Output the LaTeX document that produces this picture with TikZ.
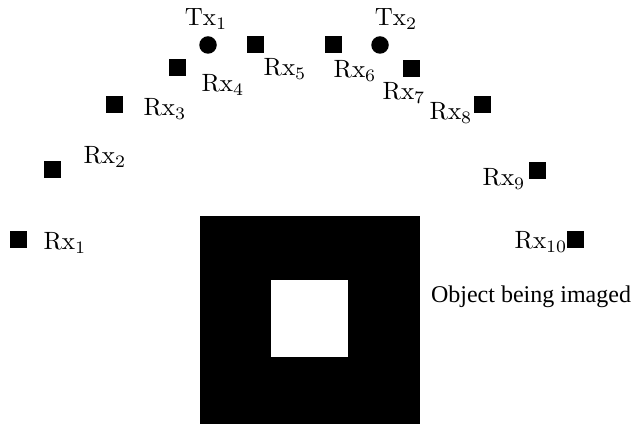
\documentclass[tikz,border=0pt]{standalone}
\usepackage{fontspec}
\newfontfamily\timesfont{Liberation Serif}
\begin{document}
\begin{tikzpicture}[x=0.4pt,y=-0.4pt,
  rxbox/.style={fill=black,draw=none,minimum size=6.8pt,inner sep=0pt,rectangle},
  txdot/.style={fill=black,draw=none,minimum size=7pt,inner sep=0pt,circle},
  lab/.style={inner sep=0pt,font=\fontsize{10}{12}\selectfont}]
\useasboundingbox (0,0) rectangle (631,424);
% object
\fill[black] (200,216) rectangle (420,424);
\fill[white] (271,280) rectangle (348,357);
\node[inner sep=0pt,font=\timesfont\fontsize{9.6}{11}\selectfont] (obj) at (531,297) {Object being imaged};
% transmitters
\node[txdot] (tx1) at (208,45) {};
\node[txdot] (tx2) at (380,45) {};
\node[lab] (tx1l) at (206,19) {$\mathrm{Tx}_1$};
\node[lab] (tx2l) at (396,19) {$\mathrm{Tx}_2$};
% receivers
\node[rxbox] (rx1) at (18,240) {};
\node[rxbox] (rx2) at (52,170) {};
\node[rxbox] (rx3) at (114,105) {};
\node[rxbox] (rx4) at (177,68) {};
\node[rxbox] (rx5) at (255,45) {};
\node[rxbox] (rx6) at (333,45) {};
\node[rxbox] (rx7) at (411,69) {};
\node[rxbox] (rx8) at (482,105) {};
\node[rxbox] (rx9) at (537,171) {};
\node[rxbox] (rx10) at (575,240) {};
\node[lab] (rx1l) at (65,243) {$\mathrm{Rx}_1$};
\node[lab] (rx2l) at (105,157) {$\mathrm{Rx}_2$};
\node[lab] (rx3l) at (165,109) {$\mathrm{Rx}_3$};
\node[lab] (rx4l) at (223,85) {$\mathrm{Rx}_4$};
\node[lab] (rx5l) at (285,69) {$\mathrm{Rx}_5$};
\node[lab] (rx6l) at (355,71) {$\mathrm{Rx}_6$};
\node[lab] (rx7l) at (404,93) {$\mathrm{Rx}_7$};
\node[lab] (rx8l) at (451,113) {$\mathrm{Rx}_8$};
\node[lab] (rx9l) at (504,179) {$\mathrm{Rx}_9$};
\node[lab] (rx10l) at (541,242) {$\mathrm{Rx}_{10}$};
\end{tikzpicture}
\end{document}
